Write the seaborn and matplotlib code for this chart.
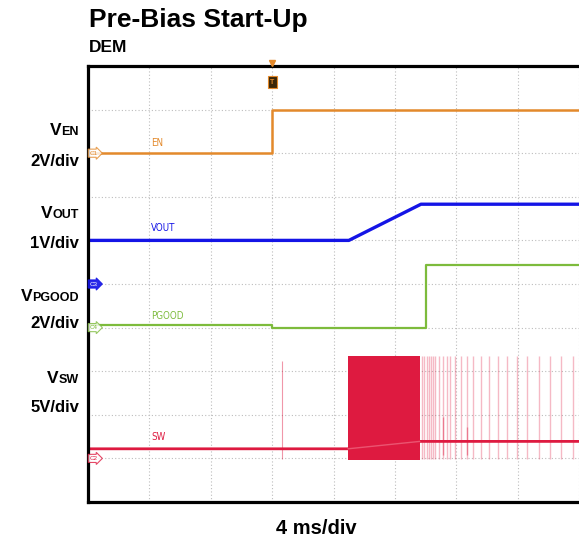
import seaborn as sns
import matplotlib.pyplot as plt
import numpy as np
import pandas as pd

# scope capture, times in ms (4 ms/div), voltages in V
en_t = [0, 12.0, 12.0, 32]
en_v = [0, 0, 2.0, 2.0]

vout_t = [0, 17.0, 21.7, 32]
vout_v = [1.0, 1.0, 1.83, 1.83]

pg_t = [0, 12.0, 12.0, 22.0, 22.0, 32]
pg_v = [0.12, 0.12, 0.0, 0.0, 2.88, 2.88]

sw_t = [0, 16.94, 21.63, 32]
sw_v = [1.1, 1.1, 1.95, 1.95]
burst_t = [16.94, 21.63]
burst_lo = [-0.2, -0.2]
burst_hi = [11.75, 11.75]
early_spike_t = [12.64]
spike_t = [21.80, 21.93, 22.07, 22.20, 22.33, 22.46, 22.61, 22.89, 23.15, 23.37,
           23.58, 23.91, 24.28, 24.67, 25.06, 25.60, 26.14, 26.73, 27.34, 27.99,
           28.62, 29.38, 30.14, 30.80, 31.62]
ring_t = [23.15, 24.67]
ring_hi = [4.8, 3.6]

trigger_t = 12.0

# channel scale (V/div) and ground position (div)
scale = {"EN": 2, "VOUT": 1, "PGOOD": 2, "SW": 5}
ground = {"EN": 8.0, "VOUT": 5.0, "PGOOD": 4.0, "SW": 1.0}
colors = {"EN": "#e3892b", "VOUT": "#1414e6", "PGOOD": "#7dbb3c", "SW": "#de1a40"}

def div(ch, v):
    return ground[ch] + np.asarray(v) / scale[ch]

W, H = 579, 541
def fx(px):
    return px / W
def fy(py):
    return 1 - py / H

sns.set_theme(style="white")
plt.rcParams['font.family'] = ['Liberation Sans', 'DejaVu Sans']
plt.rcParams['text.color'] = 'black'

fig = plt.figure(figsize=(W / 100, H / 100), dpi=100)
ax = fig.add_axes([fx(88), fy(502), 1 - fx(88), fy(66) - fy(502)])

# grid
ax.set_xlim(0, 32)
ax.set_ylim(0, 10)
ax.set_xticks(np.arange(0, 33, 4))
ax.set_yticks(np.arange(0, 11, 1))
ax.set_xticklabels([])
ax.set_yticklabels([])
ax.tick_params(length=0)
ax.grid(True, color="#bdbdbd", linestyle=(0, (1, 2)), linewidth=0.8)
for s in ["left", "top", "bottom"]:
    ax.spines[s].set_color("black")
    ax.spines[s].set_linewidth(2.3)
ax.spines["right"].set_visible(False)

# SW
c = colors["SW"]
ax.vlines(spike_t, div("SW", -0.1), div("SW", 11.75), color=c, alpha=0.3, lw=1)
ax.vlines(early_spike_t, div("SW", -0.1), div("SW", 11.2), color=c, alpha=0.45, lw=0.8)
ax.vlines(ring_t, div("SW", 0.4), div("SW", np.array(ring_hi)), color=c, alpha=0.4, lw=1)
ax.fill_between(burst_t, div("SW", burst_lo), div("SW", burst_hi), color=c, lw=0)
sns.lineplot(x=sw_t, y=div("SW", sw_v), ax=ax, color=c, lw=2, estimator=None, sort=False)
ax.plot(burst_t, div("SW", [1.1, 1.95]), color="#f06d85", lw=1, alpha=0.7)

sns.lineplot(x=pg_t, y=div("PGOOD", pg_v), ax=ax, color=colors["PGOOD"], lw=1.6,
             estimator=None, sort=False)
sns.lineplot(x=vout_t, y=div("VOUT", vout_v), ax=ax, color=colors["VOUT"], lw=2.4,
             estimator=None, sort=False)
sns.lineplot(x=en_t, y=div("EN", en_v), ax=ax, color=colors["EN"], lw=1.8,
             estimator=None, sort=False)

# trace names
names = [("EN", 8.23), ("VOUT", 6.28), ("PGOOD", 4.27), ("SW", 1.49)]
for name, yy in names:
    ax.text(4.1, yy, name, color=colors[name], fontsize=7, va="center", ha="left",
            family=["DejaVu Sans"], fontstretch="condensed")

# channel tags
tags = [("EN", "C1", False), ("VOUT", "C3", True), ("PGOOD", "C4", False), ("SW", "C2", False)]
for ch, lab, filled in tags:
    col = colors[ch]
    ax.text(0.38, ground[ch], lab, fontsize=4.5, ha="center", va="center",
            color="white" if filled else col,
            bbox=dict(boxstyle="rarrow,pad=0.25", fc=col if filled else "white",
                      ec=col, lw=0.8, alpha=0.9 if filled else 0.8),
            clip_on=False, zorder=5)

# trigger marker
ax.text(trigger_t, 9.63, "T", fontsize=5, color="#e3892b", ha="center", va="center",
        fontweight="bold",
        bbox=dict(boxstyle="square,pad=0.35", fc="#3a2608", ec="#e3892b", lw=0.8), zorder=6)
ax.plot([trigger_t], [10.08], marker="v", ms=4, color="#e3892b", clip_on=False, zorder=6)

# left labels
left_labels = [("V", "EN", "2V/div", 131, 161),
               ("V", "OUT", "1V/div", 214, 243),
               ("V", "PGOOD", "2V/div", 297, 324),
               ("V", "SW", "5V/div", 379, 408)]
for big, small, unit, y1, y2 in left_labels:
    t_small = fig.text(fx(79), fy(y1 + 7), small, fontsize=9, fontweight="bold",
                       ha="right", va="bottom")
    ax.annotate(big, xy=(0, 0), xycoords=t_small, fontsize=12.5, fontweight="bold",
                ha="right", va="bottom", annotation_clip=False)
    fig.text(fx(79), fy(y2), unit, fontsize=12, fontweight="bold", ha="right", va="center")

fig.text(fx(89), fy(20), "Pre-Bias Start-Up", fontsize=19, fontweight="bold",
         ha="left", va="center")
fig.text(fx(89), fy(47), "DEM", fontsize=12.5, fontweight="bold", ha="left", va="center")
fig.text(fx(316), fy(528), "4 ms/div", fontsize=14.5, fontweight="bold",
         ha="center", va="center")

fig.savefig("out.png", dpi=100)
